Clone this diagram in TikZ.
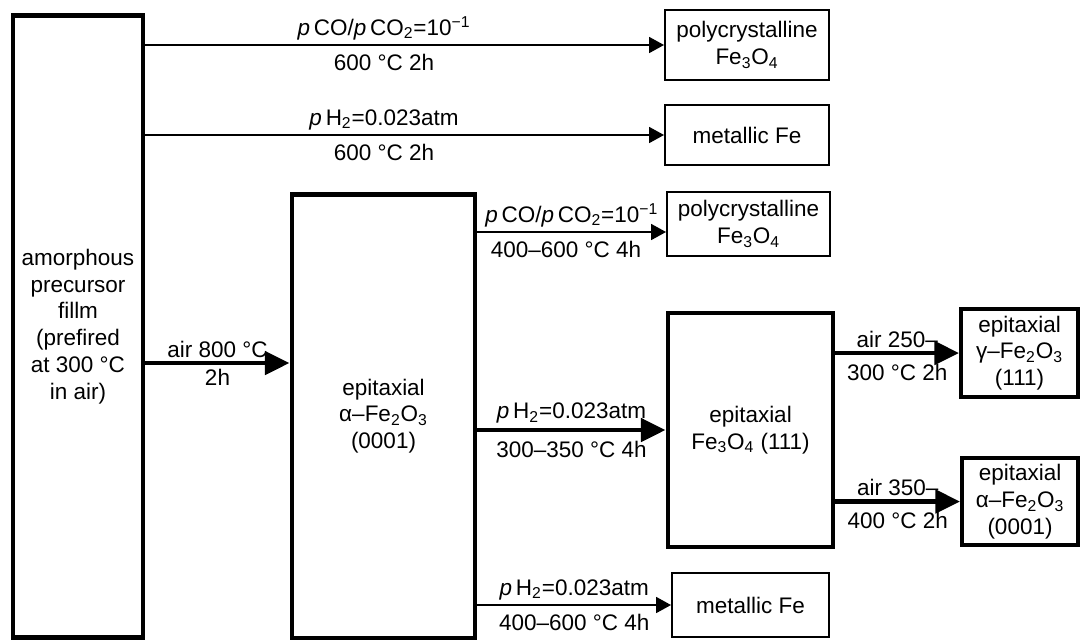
\documentclass[tikz,border=0pt]{standalone}
\usepackage{fontspec}
\setmainfont{Liberation Sans}
\usetikzlibrary{arrows.meta}
\newcommand{\pp}[0]{\textit{p}\,}
\newcommand{\degc}[0]{°C}
\newcommand{\ox}[2]{Fe\textsubscript{#1}O\textsubscript{#2}}

\begin{document}
\begin{tikzpicture}[x=0.02cm,y=-0.02cm,
	font=\fontsize{12.8}{15.2}\selectfont,
	boite/.style={draw,line width=1.1pt,align=center,inner sep=0pt},
	boitegrasse/.style={boite,line width=2.8pt},
	boitemoyenne/.style={boite,line width=2.2pt},
	fleche/.style={line width=1.2pt,-{Triangle[length=8.5pt,width=9pt]}},
	flechegrasse/.style={line width=2.8pt,-{Triangle[length=14pt,width=13pt]}},
	dessus/.style={above,inner sep=1.5pt,text depth=3.5pt,font=\fontsize{12.8}{14}\selectfont},
	dessous/.style={below,inner sep=1.5pt,text height=12.5pt,font=\fontsize{12.8}{14}\selectfont}]
	\useasboundingbox (0,0) rectangle (1081,640);
	% boites
	\node[boitegrasse,minimum width=2.6cm,minimum height=12.46cm] (amorph) at (78,326.5)
		{amorphous\\precursor\\fillm\\(prefired\\at 300 \degc\\in air)};
	\node[boitegrasse,minimum width=3.66cm,minimum height=8.88cm] (epi) at (383.5,416)
		{epitaxial\\α–\ox{2}{3}\\(0001)};
	\node[boitegrasse,minimum width=3.3cm,minimum height=4.68cm] (mag) at (750.5,430)
		{epitaxial\\\ox{3}{4} (111)};
	\node[boite,minimum width=3.28cm,minimum height=1.4cm] (poly1) at (747,45)
		{polycrystalline\\\ox{3}{4}};
	\node[boite,minimum width=3.28cm,minimum height=1.2cm] (fe1) at (747,135) {metallic Fe};
	\node[boite,minimum width=3.26cm,minimum height=1.28cm] (poly2) at (748.5,224)
		{polycrystalline\\\ox{3}{4}};
	\node[boite,minimum width=3.14cm,minimum height=1.28cm] (fe2) at (750.5,605) {metallic Fe};
	\node[boitemoyenne,minimum width=2.34cm,minimum height=1.76cm] (gam) at (1019.5,353)
		{epitaxial\\γ–\ox{2}{3}\\(111)};
	\node[boitemoyenne,minimum width=2.32cm,minimum height=1.74cm] (alp) at (1020,501.5)
		{epitaxial\\α–\ox{2}{3}\\(0001)};
	\coordinate (t3) at ([yshift=-0.16cm]poly2.west);
	\coordinate (t4) at (epi.west |- 0,363);
	% fleches
	\draw[fleche] (amorph.east |- poly1.west) -- (poly1.west)
		node[dessus,pos=0.46] (l1a) {\pp CO/\pp CO\textsubscript{2}=10\textsuperscript{−1}}
		node[dessous,pos=0.46] (l1b) {600 \degc\ 2h};
	\draw[fleche] (amorph.east |- fe1.west) -- (fe1.west)
		node[dessus,pos=0.46] (l2a) {\pp H\textsubscript{2}=0.023atm}
		node[dessous,pos=0.46] (l2b) {600 \degc\ 2h};
	\draw[fleche] (epi.east |- t3) -- (t3)
		node[dessus,pos=0.5] (l3a) {\pp CO/\pp CO\textsubscript{2}=10\textsuperscript{−1}}
		node[dessous,pos=0.47] (l3b) {400–600 \degc\ 4h};
	\draw[flechegrasse] (amorph.east |- t4) -- (t4)
		node[dessus,pos=0.5,text depth=0.5pt] (l4a) {air 800 \degc}
		node[dessous,pos=0.5,text height=10pt] (l4b) {2h};
	\draw[flechegrasse] (epi.east |- mag.west) -- (mag.west)
		node[dessus,pos=0.5] (l5a) {\pp H\textsubscript{2}=0.023atm}
		node[dessous,pos=0.5] (l5b) {300–350 \degc\ 4h};
	\draw[fleche] (epi.east |- fe2.west) -- (fe2.west)
		node[dessus,pos=0.5] (l6a) {\pp H\textsubscript{2}=0.023atm}
		node[dessous,pos=0.5] (l6b) {400–600 \degc\ 4h};
	\draw[flechegrasse] (mag.east |- gam.west) -- (gam.west)
		node[dessus,pos=0.5,text depth=0.5pt] (l7a) {air 250–}
		node[dessous,pos=0.5] (l7b) {300 \degc\ 2h};
	\draw[flechegrasse] (mag.east |- alp.west) -- (alp.west)
		node[dessus,pos=0.5,text depth=0.5pt] (l8a) {air 350–}
		node[dessous,pos=0.5] (l8b) {400 \degc\ 2h};
\end{tikzpicture}
\end{document}
